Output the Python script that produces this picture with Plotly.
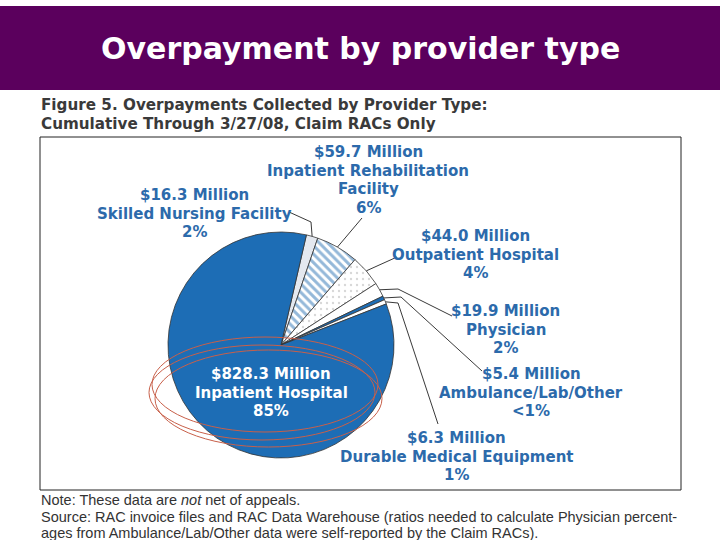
import math
import plotly.graph_objects as go

# ---------------- data ----------------
categories = ["Skilled Nursing Facility", "Inpatient Rehabilitation Facility",
              "Outpatient Hospital", "Physician", "Ambulance/Lab/Other",
              "Durable Medical Equipment", "Inpatient Hospital"]
amounts_musd = [16.3, 59.7, 44.0, 19.9, 5.4, 6.3, 828.3]
amount_labels = ["$16.3 Million", "$59.7 Million", "$44.0 Million", "$19.9 Million",
                 "$5.4 Million", "$6.3 Million", "$828.3 Million"]
name_lines = [["Skilled Nursing Facility"], ["Inpatient Rehabilitation", "Facility"],
              ["Outpatient Hospital"], ["Physician"], ["Ambulance/Lab/Other"],
              ["Durable Medical Equipment"], ["Inpatient Hospital"]]
pct_labels = ["2%", "6%", "4%", "2%", "<1%", "1%", "85%"]

# ---------------- styling ----------------
W, H = 720, 540
BLUE = "#1d6db5"
LBLUE = "#2c6aab"
PURPLE = "#5b005d"
slice_colors = ["#e4e8ef", "white", "white", "white", BLUE, "white", BLUE]
pat_shapes = ["", "\\", ".", "", "", "", ""]
pat_fg = ["#e4e8ef", "#2a72b3", "#b0b0b0", "white", BLUE, "white", BLUE]
ROT = 13
LABEL_FONT = "DejaVu Sans, Verdana, sans-serif"
NOTE_FONT = "Liberation Sans, Arial, sans-serif"

# pie geometry (pixels)
CX, CY, R = 281, 345, 113


def px(x):
    return x / W


def py(y):
    return 1 - y / H


def txt(text, x, y, size, color, family, xanchor="center", bold=False):
    return dict(text=("<b>" + text + "</b>") if bold else text, xref="paper",
                yref="paper", x=px(x), y=py(y), xanchor=xanchor, yanchor="middle",
                showarrow=False, font=dict(family=family, size=size, color=color))


fig = go.Figure()
fig.add_trace(go.Pie(
    labels=categories, values=amounts_musd, sort=False, direction="clockwise",
    rotation=ROT, textinfo="none", hoverinfo="label+value", showlegend=False,
    domain=dict(x=[px(CX - R), px(CX + R)], y=[py(CY + R), py(CY - R)]),
    marker=dict(colors=slice_colors, line=dict(color="#333333", width=0.8),
                pattern=dict(shape=pat_shapes, fgcolor=pat_fg, bgcolor=slice_colors,
                             size=6, solidity=[0, 0.5, 0.12, 0, 0, 0, 0],
                             fillmode="overlay")),
))

shapes = []
annotations = []

# header band
shapes.append(dict(type="rect", xref="paper", yref="paper", x0=0, x1=1,
                   y0=py(90), y1=py(6), fillcolor=PURPLE, line=dict(width=0),
                   layer="below"))
annotations.append(txt("Overpayment by provider type", 360, 48, 30, "white",
                       LABEL_FONT, bold=True))

# figure caption
for i, t in enumerate(["Figure 5. Overpayments Collected by Provider Type:",
                       "Cumulative Through 3/27/08, Claim RACs Only"]):
    annotations.append(txt(t, 39, 105 + 19 * i, 15.2, "#3a3a3a", LABEL_FONT,
                           xanchor="left", bold=True))

# chart box
shapes.append(dict(type="rect", xref="paper", yref="paper", x0=px(40), x1=px(681),
                   y0=py(490), y1=py(137), line=dict(color="#222222", width=1),
                   fillcolor="rgba(0,0,0,0)"))

# notes
notes = ["Note: These data are <i>not</i> net of appeals.",
         "Source: RAC invoice files and RAC Data Warehouse (ratios needed to calculate Physician percent-",
         "ages from Ambulance/Lab/Other data were self-reported by the Claim RACs)."]
for i, t in enumerate(notes):
    annotations.append(txt(t, 39, 500 + 16.5 * i, 14.5, "#333333", NOTE_FONT,
                           xanchor="left"))

# slice labels: (center x, first line y)
label_pos = [(194, 195), (368, 152), (475, 236), (506, 311), (531, 374), (456, 438),
             (271, 374)]
LS = 18.6
for k in range(len(categories)):
    lines = [amount_labels[k]] + name_lines[k] + [pct_labels[k]]
    col = "white" if k == len(categories) - 1 else LBLUE
    x0, y0 = label_pos[k]
    for j, t in enumerate(lines):
        annotations.append(txt(t, x0, y0 + LS * j, 15, col, LABEL_FONT, bold=True))

# leader lines: label anchor -> optional elbow -> slice outer edge (from data)
total = sum(amounts_musd)
cum = 0.0
mids = []
for v in amounts_musd:
    mids.append(ROT + (cum + v / 2) / total * 360)
    cum += v

leaders = {0: [(289, 212), (311, 222)], 1: [(362, 218)], 2: [(397, 257)],
           3: [(452, 316), (398, 289)], 4: [(482, 371), (401, 297)],
           5: [(438, 424), (398, 303)]}
for k, pts in leaders.items():
    a = math.radians(mids[k])
    ex, ey = CX + R * math.sin(a), CY - R * math.cos(a)
    seq = pts + [(ex, ey)]
    path = "M {} {}".format(px(seq[0][0]), py(seq[0][1]))
    for (x, y) in seq[1:]:
        path += " L {} {}".format(px(x), py(y))
    shapes.append(dict(type="path", xref="paper", yref="paper", path=path,
                       line=dict(color="#222222", width=0.9)))

# hand-drawn red ellipses around the Inpatient Hospital label
for (x0, x1, y0, y1) in [(152, 378, 337, 432), (149, 375, 345, 440), (155, 382, 350, 447)]:
    shapes.append(dict(type="circle", xref="paper", yref="paper", x0=px(x0), x1=px(x1),
                       y0=py(y1), y1=py(y0), line=dict(color="#c8604a", width=1)))

fig.update_layout(width=W, height=H, margin=dict(l=0, r=0, t=0, b=0),
                  paper_bgcolor="white", plot_bgcolor="white",
                  shapes=shapes, annotations=annotations)

fig.write_html("out.html", config={"displayModeBar": False},
               post_script="document.body.style.margin='0';document.body.style.overflow='hidden';")
